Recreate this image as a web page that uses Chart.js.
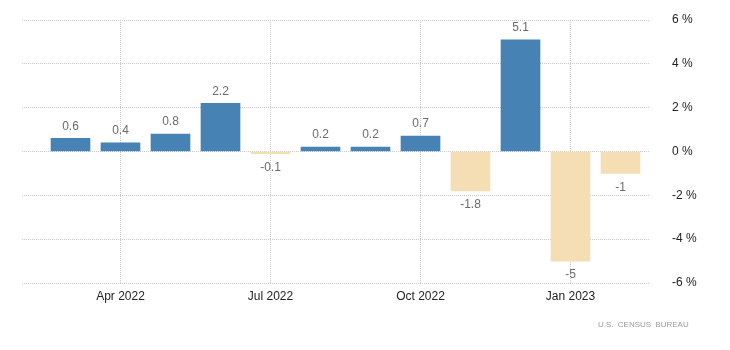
<!DOCTYPE html>
<html>
<head>
<meta charset="utf-8">
<script src="https://cdn.jsdelivr.net/npm/chart.js@4"></script>
<style>
  html, body { margin: 0; padding: 0; background: #fff; }
  #wrap { position: relative; width: 730px; height: 350px; }
  #source {
    position: absolute; left: 598px; top: 320px;
    font: 8px "Liberation Sans", sans-serif; color: #999; letter-spacing: 0px;
    word-spacing: 2px; white-space: nowrap;
  }
</style>
</head>
<body>
<div id="wrap">
  <canvas id="c" width="730" height="350"></canvas>
  <div id="source">U.S. CENSUS BUREAU</div>
</div>
<script>
// Monthly change, percent (Mar 2022 – Feb 2023)
const months = ["Mar 2022", "Apr 2022", "May 2022", "Jun 2022", "Jul 2022", "Aug 2022",
                "Sep 2022", "Oct 2022", "Nov 2022", "Dec 2022", "Jan 2023", "Feb 2023"];
const values = [0.6, 0.4, 0.8, 2.2, -0.1, 0.2, 0.2, 0.7, -1.8, 5.1, -5, -1];
const xTickMonths = ["Apr 2022", "Jul 2022", "Oct 2022", "Jan 2023"];
const yTicks = [-6, -4, -2, 0, 2, 4, 6];

const POS = "#4682B4";
const NEG = "#F5DEB3";

const points = values.map((v, i) => ({ x: i, y: v }));
const xTickIdx = xTickMonths.map(m => months.indexOf(m));

// value labels above positive bars, below negative bars
const valueLabels = {
  id: "valueLabels",
  afterDatasetsDraw(chart) {
    const ctx = chart.ctx;
    const meta = chart.getDatasetMeta(0);
    ctx.save();
    ctx.font = "12px 'Liberation Sans', sans-serif";
    ctx.fillStyle = "#6b6b6b";
    ctx.textAlign = "center";
    ctx.textBaseline = "middle";
    meta.data.forEach((bar, i) => {
      const v = values[i];
      const y = v >= 0 ? bar.y - 12 : bar.y + 14;
      ctx.fillText(String(v), bar.x, y);
    });
    ctx.restore();
  }
};

new Chart(document.getElementById("c"), {
  type: "bar",
  data: {
    datasets: [{
      data: points,
      backgroundColor: values.map(v => v >= 0 ? POS : NEG),
      borderWidth: 0,
      barThickness: 39
    }]
  },
  options: {
    responsive: false,
    animation: false,
    layout: { padding: { left: 22, top: 20, right: 0, bottom: 0 } },
    plugins: { legend: { display: false }, tooltip: { enabled: false } },
    scales: {
      x: {
        type: "linear",
        offset: false,
        min: -0.97,
        max: 11.59,
        afterBuildTicks(scale) { scale.ticks = xTickIdx.map(v => ({ value: v })); },
        afterFit(scale) { scale.height = 67; },
        ticks: {
          callback: v => months[v],
          color: "#222",
          font: { family: "'Liberation Sans', sans-serif", size: 12 },
          padding: 6,
          maxRotation: 0,
          autoSkip: false
        },
        grid: {
          offset: false,
          color: "#c8c8c8",
          lineWidth: 1,
          drawTicks: false
        },
        border: { display: false, dash: [1, 1] }
      },
      y: {
        position: "right",
        min: -6,
        max: 6,
        afterBuildTicks(scale) { scale.ticks = yTicks.map(v => ({ value: v })); },
        afterFit(scale) { scale.width = 80; },
        ticks: {
          callback: v => v + " %",
          color: "#222",
          font: { family: "'Liberation Sans', sans-serif", size: 12 },
          padding: 0
        },
        grid: {
          color: "#c8c8c8",
          lineWidth: 1,
          drawTicks: true,
          tickLength: 22,
          tickColor: "rgba(0,0,0,0)"
        },
        border: { display: false, dash: [1, 1] }
      }
    }
  },
  plugins: [valueLabels]
});
</script>
</body>
</html>
